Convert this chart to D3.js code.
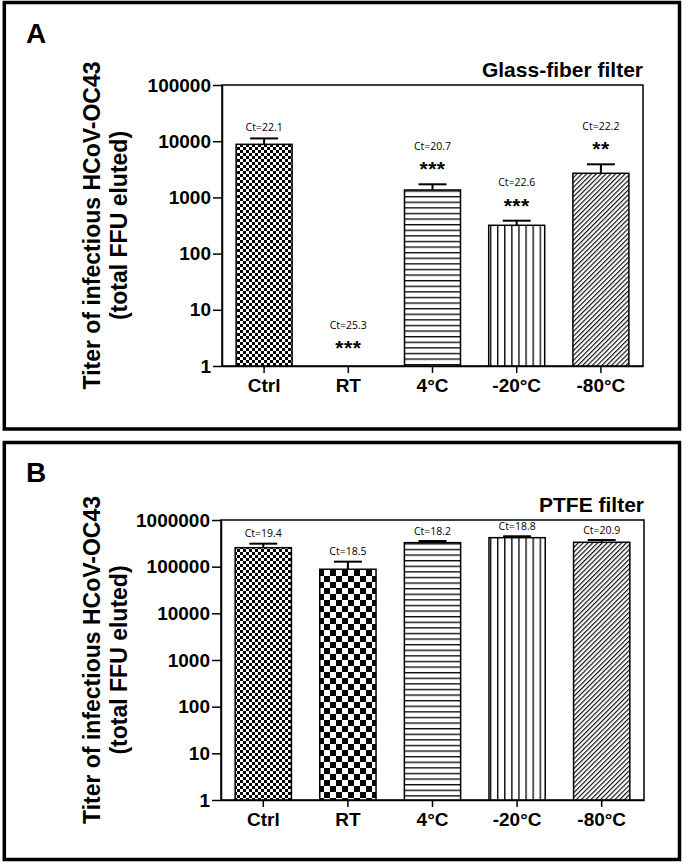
<!DOCTYPE html>
<html>
<head>
<meta charset="utf-8">
<script src="https://cdn.jsdelivr.net/npm/d3@7"></script>
<style>
  html, body { margin: 0; padding: 0; background: #fff; }
  svg { display: block; }
</style>
</head>
<body>
<svg id="chart" width="688" height="864"></svg>
<script>
// ---------------- DATA ----------------
const categories = ["Ctrl", "RT", "4°C", "-20°C", "-80°C"];

// Panel A: Glass-fiber filter
const glassMeans = [8800, null, 1355, 319, 2685];
const glassUpper = [11200, null, 1710, 385, 3880];
const glassCt    = ["22.1", "25.3", "20.7", "22.6", "22.2"];
const glassSig   = ["", "***", "***", "***", "**"];
const glassTicks = [1, 10, 100, 1000, 10000, 100000];

// Panel B: PTFE filter
const ptfeMeans = [255000, 88000, 327000, 418000, 333000];
const ptfeUpper = [311000, 128000, 355000, 448000, 373000];
const ptfeCt    = ["19.4", "18.5", "18.2", "18.8", "20.9"];
const ptfeSig   = ["", "", "", "", ""];
const ptfeTicks = [1, 10, 100, 1000, 10000, 100000, 1000000];

const patternIdsA = ["fineCheck", null, "hLines", "vLines", "diag"];
const patternIdsB = ["fineCheck", "coarseCheck", "hLines", "vLines", "diag"];

const titleLine1 = "Titer of infectious HCoV-OC43";
const titleLine2 = "(total FFU eluted)";

// ---------------- SETUP ----------------
const svg = d3.select("#chart");
svg.append("rect").attr("width", 688).attr("height", 864).attr("fill", "#fff");
const defs = svg.append("defs");

// fine checkerboard
const p1 = defs.append("pattern").attr("id", "fineCheck").attr("patternUnits", "userSpaceOnUse")
  .attr("width", 6).attr("height", 6);
p1.append("rect").attr("width", 6).attr("height", 6).attr("fill", "#fff");
p1.append("rect").attr("x", 0).attr("y", 0).attr("width", 3).attr("height", 3).attr("fill", "#000");
p1.append("rect").attr("x", 3).attr("y", 3).attr("width", 3).attr("height", 3).attr("fill", "#000");

// coarse checkerboard
const p2 = defs.append("pattern").attr("id", "coarseCheck").attr("patternUnits", "userSpaceOnUse")
  .attr("width", 12).attr("height", 12);
p2.append("rect").attr("width", 12).attr("height", 12).attr("fill", "#fff");
p2.append("rect").attr("x", 0).attr("y", 0).attr("width", 6).attr("height", 6).attr("fill", "#000");
p2.append("rect").attr("x", 6).attr("y", 6).attr("width", 6).attr("height", 6).attr("fill", "#000");

// horizontal lines
const p3 = defs.append("pattern").attr("id", "hLines").attr("patternUnits", "userSpaceOnUse")
  .attr("width", 10).attr("height", 5.6);
p3.append("rect").attr("width", 10).attr("height", 5.6).attr("fill", "#fff");
p3.append("line").attr("x1", 0).attr("x2", 10).attr("y1", 0.7).attr("y2", 0.7)
  .attr("stroke", "#000").attr("stroke-width", 1.3);

// vertical lines
const p4 = defs.append("pattern").attr("id", "vLines").attr("patternUnits", "userSpaceOnUse")
  .attr("width", 7.1).attr("height", 10);
p4.append("rect").attr("width", 7.1).attr("height", 10).attr("fill", "#fff");
p4.append("line").attr("x1", 0.7).attr("x2", 0.7).attr("y1", 0).attr("y2", 10)
  .attr("stroke", "#000").attr("stroke-width", 1.3);

// diagonal hatch "/"
const p5 = defs.append("pattern").attr("id", "diag").attr("patternUnits", "userSpaceOnUse")
  .attr("width", 3.4).attr("height", 10).attr("patternTransform", "rotate(45)");
p5.append("rect").attr("width", 3.4).attr("height", 10).attr("fill", "#fff");
p5.append("line").attr("x1", 0.6).attr("x2", 0.6).attr("y1", 0).attr("y2", 10)
  .attr("stroke", "#000").attr("stroke-width", 1.1);

const boldFont = "'Liberation Sans', Arial, sans-serif";
const ctFont = "'Open Sans', 'Noto Sans', sans-serif";

// ---------------- PANEL DRAWING ----------------
function drawPanel(cfg) {
  const g = svg.append("g");

  // outer panel border
  g.append("rect")
    .attr("x", cfg.box[0]).attr("y", cfg.box[1]).attr("width", cfg.box[2]).attr("height", cfg.box[3])
    .attr("fill", "none").attr("stroke", "#000").attr("stroke-width", 3.5);

  // panel letter
  g.append("text").attr("x", 26).attr("y", cfg.letterY)
    .attr("font-family", boldFont).attr("font-weight", "bold").attr("font-size", 28)
    .text(cfg.letter);

  const y = d3.scaleLog().domain([1, cfg.ticks[cfg.ticks.length - 1]]).range([cfg.bottom, cfg.top]);
  const x = d3.scaleBand().domain(categories).range([cfg.left, cfg.right])
    .paddingInner(0.335).paddingOuter(0.1675);

  // plot frame
  g.append("rect").attr("x", cfg.left).attr("y", cfg.top)
    .attr("width", cfg.right - cfg.left).attr("height", cfg.bottom - cfg.top)
    .attr("fill", "none").attr("stroke", "#000").attr("stroke-width", 1.5);

  // bars
  const rows = categories.map((c, i) => ({ c, i, mean: cfg.means[i], upper: cfg.upper[i],
    ct: cfg.ct[i], sig: cfg.sig[i], pat: cfg.patterns[i] }));

  g.selectAll(".bar").data(rows.filter(d => d.mean != null)).enter().append("rect")
    .attr("x", d => x(d.c)).attr("width", x.bandwidth())
    .attr("y", d => y(d.mean)).attr("height", d => y(1) - y(d.mean))
    .attr("fill", d => "url(#" + d.pat + ")").attr("stroke", "#000").attr("stroke-width", 1.5);

  // error bars
  const capHalf = 14;
  const eb = g.selectAll(".err").data(rows.filter(d => d.upper != null)).enter().append("g");
  eb.append("line")
    .attr("x1", d => x(d.c) + x.bandwidth() / 2).attr("x2", d => x(d.c) + x.bandwidth() / 2)
    .attr("y1", d => y(d.mean)).attr("y2", d => y(d.upper))
    .attr("stroke", "#000").attr("stroke-width", 2);
  eb.append("line")
    .attr("x1", d => x(d.c) + x.bandwidth() / 2 - capHalf).attr("x2", d => x(d.c) + x.bandwidth() / 2 + capHalf)
    .attr("y1", d => y(d.upper)).attr("y2", d => y(d.upper))
    .attr("stroke", "#000").attr("stroke-width", 2);

  // annotations
  rows.forEach(d => {
    const cx = x(d.c) + x.bandwidth() / 2;
    const anchor = d.upper != null ? y(d.upper) : y(1) - 3;
    let ctCenter;
    if (d.sig) {
      const starCenter = anchor - 20;
      ctCenter = anchor - 38;
      g.append("text").attr("x", cx).attr("y", starCenter + 12)
        .attr("text-anchor", "middle").attr("font-family", boldFont).attr("font-weight", "bold")
        .attr("font-size", 21).attr("letter-spacing", 0.5)
        .text(d.sig);
    } else {
      ctCenter = anchor - cfg.ctGap;
    }
    g.append("text").attr("x", cx).attr("y", ctCenter + 3.8)
      .attr("text-anchor", "middle").attr("font-family", ctFont)
      .attr("font-size", 10.5).attr("fill", "#000")
      .text("Ct=" + d.ct);
  });

  // axes
  const yAxis = d3.axisLeft(y).tickValues(cfg.ticks).tickFormat(d3.format("d"))
    .tickSize(9).tickSizeOuter(0).tickPadding(2);
  const ya = g.append("g").attr("transform", `translate(${cfg.left},0)`).call(yAxis);
  ya.select(".domain").attr("stroke-width", 1.5);
  ya.selectAll(".tick line").attr("stroke-width", 1.5);
  ya.selectAll("text").attr("font-family", boldFont).attr("font-weight", "bold")
    .attr("font-size", 19).attr("fill", "#000");

  const xAxis = d3.axisBottom(x).tickSize(7).tickSizeOuter(0).tickPadding(6);
  const xa = g.append("g").attr("transform", `translate(0,${cfg.bottom})`).call(xAxis);
  xa.select(".domain").attr("stroke-width", 1.5);
  xa.selectAll(".tick line").attr("stroke-width", 1.5);
  xa.selectAll("text").attr("font-family", boldFont).attr("font-weight", "bold")
    .attr("font-size", 19).attr("fill", "#000");

  // filter label
  g.append("text").attr("x", cfg.right).attr("y", cfg.top - 8)
    .attr("text-anchor", "end").attr("font-family", boldFont).attr("font-weight", "bold")
    .attr("font-size", 21).text(cfg.filter);

  // y title
  const cy = (cfg.top + cfg.bottom) / 2;
  const tg = g.append("g").attr("transform", `translate(100,${cy}) rotate(-90)`);
  tg.append("text").attr("x", 0).attr("y", 0).attr("text-anchor", "middle")
    .attr("font-family", boldFont).attr("font-weight", "bold").attr("font-size", 23)
    .text(titleLine1);
  tg.append("text").attr("x", 0).attr("y", 27).attr("text-anchor", "middle")
    .attr("font-family", boldFont).attr("font-weight", "bold").attr("font-size", 23)
    .text(titleLine2);
}

drawPanel({
  letter: "A", letterY: 43, box: [4.3, 2.5, 675.2, 426.5],
  top: 85, bottom: 366, left: 222, right: 643,
  ticks: glassTicks, means: glassMeans, upper: glassUpper, ct: glassCt, sig: glassSig,
  patterns: patternIdsA, filter: "Glass-fiber filter", ctGap: 11.5
});

drawPanel({
  letter: "B", letterY: 482, box: [4.3, 442.5, 675.2, 417],
  top: 520, bottom: 800, left: 221, right: 644,
  ticks: ptfeTicks, means: ptfeMeans, upper: ptfeUpper, ct: ptfeCt, sig: ptfeSig,
  patterns: patternIdsB, filter: "PTFE filter", ctGap: 10
});
</script>
</body>
</html>
